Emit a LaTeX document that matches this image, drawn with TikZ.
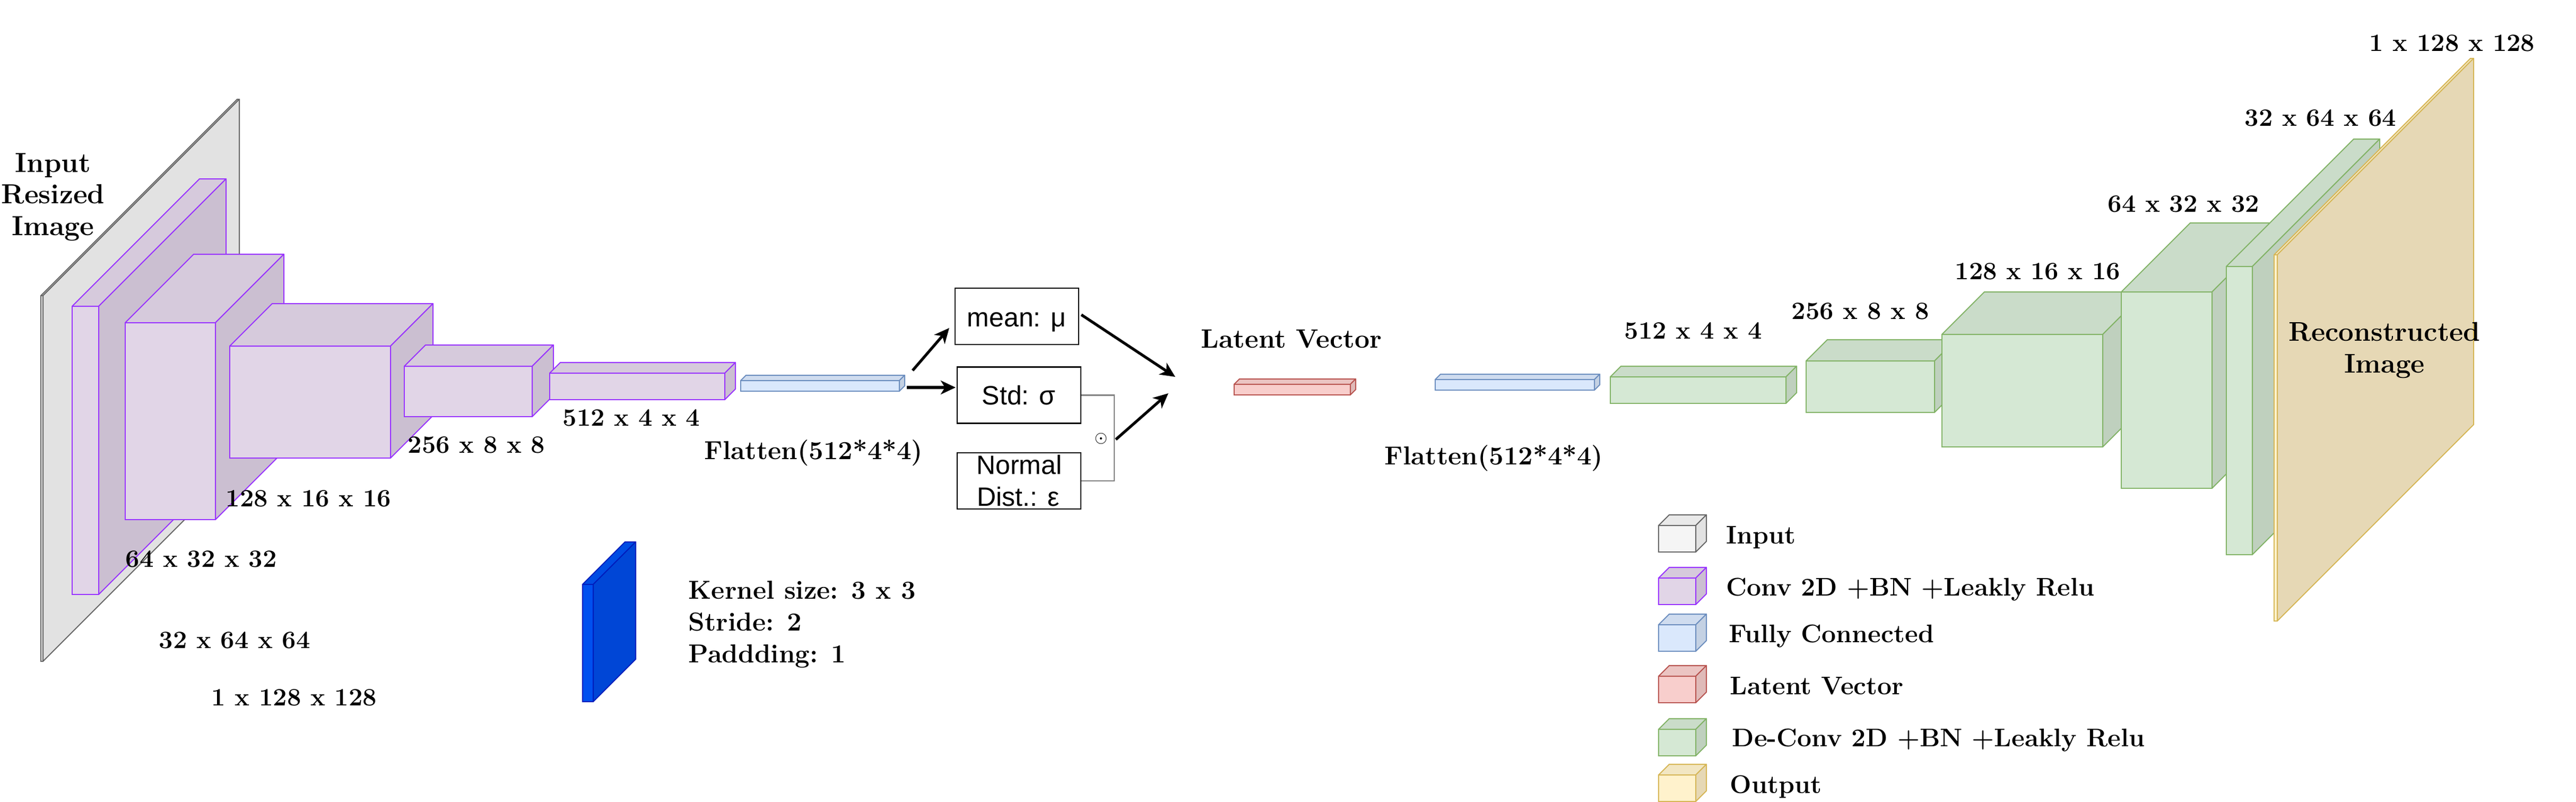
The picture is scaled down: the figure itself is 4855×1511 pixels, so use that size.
\documentclass[tikz,border=0pt]{standalone}
\usepackage{fontspec}
\newfontfamily\boxfont{Liberation Sans}
\usetikzlibrary{arrows.meta}
\definecolor{purF}{HTML}{E1D5E7}\definecolor{purT}{HTML}{D6CADC}\definecolor{purS}{HTML}{CBBFD1}\definecolor{purL}{HTML}{9933FF}
\definecolor{grnF}{HTML}{D5E8D4}\definecolor{grnT}{HTML}{CADCC9}\definecolor{grnS}{HTML}{BFD0BE}\definecolor{grnL}{HTML}{82B366}
\definecolor{bluF}{HTML}{DAE8FC}\definecolor{bluT}{HTML}{CFDCEF}\definecolor{bluS}{HTML}{C4D1E3}\definecolor{bluL}{HTML}{6C8EBF}
\definecolor{redF}{HTML}{F8CECC}\definecolor{redT}{HTML}{EBC4C2}\definecolor{redS}{HTML}{DFBAB8}\definecolor{redL}{HTML}{B85450}
\definecolor{gryF}{HTML}{F5F5F5}\definecolor{gryT}{HTML}{E9E9E9}\definecolor{gryS}{HTML}{E2E2E2}\definecolor{gryL}{HTML}{666666}
\definecolor{yelF}{HTML}{FFF2CC}\definecolor{yelT}{HTML}{F2E6C2}\definecolor{yelS}{HTML}{E6D8B5}\definecolor{yelL}{HTML}{D6B656}
\definecolor{kbF}{HTML}{0050EF}\definecolor{kbT}{HTML}{004CE3}\definecolor{kbS}{HTML}{0046D6}\definecolor{kbL}{HTML}{001DBC}
\newcommand{\cuboid}[7]{%
  \node[draw=#7L, fill=#7F, line width=0.5pt, inner sep=0pt, outer sep=0pt, anchor=north west,
        minimum width=#4*0.25pt, minimum height=#5*0.25pt] (#1) at (#2,#3) {};
  \draw[draw=#7L, fill=#7T, line width=0.5pt, line join=round] (#1.north west) -- ++(#6,-#6) -- ++(#4,0) -- (#1.north east) -- cycle;
  \draw[draw=#7L, fill=#7S, line width=0.5pt, line join=round] (#1.north east) -- ++(#6,-#6) -- ++(0,#5) -- (#1.south east) -- cycle;
}
\tikzset{
  dimlbl/.style={font=\bfseries\fontsize{11.75}{14}\selectfont, inner sep=0pt, anchor=base west},
  titlbl/.style={font=\bfseries\fontsize{12.75}{15}\selectfont, inner sep=0pt, anchor=base},
  midlbl/.style={font=\bfseries\fontsize{12.25}{15}\selectfont, inner sep=0pt, anchor=base west},
  leglbl/.style={font=\bfseries\fontsize{12}{14}\selectfont, inner sep=0pt, anchor=base west},
  sbox/.style={draw=black, line width=0.6pt, fill=white, inner sep=0pt, minimum width=58.25pt, minimum height=26.5pt},
  stxt/.style={font=\boxfont\fontsize{12.5}{15}\selectfont, inner sep=0pt, anchor=base},
  flow/.style={line width=1.3pt, -{Stealth[length=7pt, width=6.5pt, inset=2pt]}},
}
\begin{document}
\begin{tikzpicture}[x=0.25pt, y=-0.25pt]
\useasboundingbox (0,0) rectangle (4855,1511);
\fill[white] (0,0) rectangle (4855,1511);
% encoder
\cuboid{inp}{77}{557}{4}{689}{370}{gry}
\cuboid{enca}{136}{577}{50}{543}{240}{pur}
\cuboid{encb}{236}{608}{170}{371}{129}{pur}
\cuboid{encc}{433}{652}{303}{211}{80}{pur}
\cuboid{encd}{762}{690}{241}{95}{40}{pur}
\cuboid{ence}{1036}{703}{330}{50}{20}{pur}
\cuboid{fca}{1396}{717}{299}{20}{10}{blu}
% latent
\cuboid{lat}{2326}{724}{219}{20}{10}{red}
\cuboid{fcb}{2705}{715}{300}{20}{10}{blu}
% decoder
\cuboid{deca}{3035}{710}{331}{50}{20}{grn}
\cuboid{decb}{3404}{680}{242}{97}{40}{grn}
\cuboid{decc}{3660}{630}{303}{212}{80}{grn}
\cuboid{decd}{3998}{550}{171}{370}{130}{grn}
\cuboid{dece}{4196}{502}{49}{543}{240}{grn}
\cuboid{outp}{4286}{480}{6}{690}{370}{yel}
% kernel slab
\cuboid{kern}{1098}{1101}{20}{221}{80}{kb}
% legend cubes
\cuboid{lga}{3126}{990}{70}{50}{20}{gry}
\cuboid{lgb}{3126}{1089}{70}{50}{20}{pur}
\cuboid{lgc}{3126}{1177}{70}{50}{20}{blu}
\cuboid{lgd}{3126}{1274}{70}{50}{20}{red}
\cuboid{lge}{3126}{1374}{70}{50}{20}{grn}
\cuboid{lgf}{3126}{1460}{70}{50}{20}{yel}
% sampling boxes
\node[sbox] (mean) at (1916.5,596) {};
\node[sbox] (std) at (1920.5,744.5) {};
\node[sbox] (norm) at (1920.5,906) {};
\node[stxt] (meant) at (1916,615) {mean: μ};
\node[stxt] (stdt) at (1920,762) {Std: σ};
\node[stxt] (normt) at (1921,893) {Normal};
\node[stxt] (distt) at (1919,953) {Dist.: ε};
\draw[gray, line width=0.6pt] (std.east) -- ++(62,0) |- (norm.east);
\node[inner sep=0pt, font=\fontsize{7.5}{9}\selectfont] (odot) at (2075,826) {$\odot$};
% connectors
\coordinate (fcout1) at (1720,698);
\coordinate (meanin) at (1789,618);
\coordinate (fcout2) at (1709,730);
\coordinate (stdin) at (1801,730);
\coordinate (brout) at (2103,828);
\coordinate (zin1) at (2202,741);
\coordinate (zin2) at (2215,710);
\coordinate (meanout) at (2038,593);
\draw[flow] (fcout1) -- (meanin);
\draw[flow] (fcout2) -- (stdin);
\draw[flow] (meanout) -- (zin2);
\draw[flow] (brout) -- (zin1);
% titles
\node[titlbl, font=\bfseries\fontsize{13}{15}\selectfont] (tin1) at (100,324) {Input};
\node[titlbl, font=\bfseries\fontsize{13}{15}\selectfont] (tin2) at (100,383) {Resized};
\node[titlbl, font=\bfseries\fontsize{13}{15}\selectfont] (tin3) at (100,443) {Image};
\node[titlbl] (trc1) at (4494,642) {Reconstructed};
\node[titlbl] (trc2) at (4494,702) {Image};
\node[midlbl, font=\bfseries\fontsize{12.5}{15}\selectfont] (tlat) at (2263,655) {Latent Vector};
\node[midlbl] (tfl1) at (1327,865) {Flatten(512*4*4)};
\node[midlbl] (tfl2) at (2609,875) {Flatten(512*4*4)};
% dimensions
\node[dimlbl] (ea) at (236,1068) {64 x 32 x 32};
\node[dimlbl] (eb) at (425,954) {128 x 16 x 16};
\node[dimlbl] (ec) at (768,853) {256 x 8 x 8};
\node[dimlbl] (ed) at (1060,802) {512 x 4 x 4};
\node[dimlbl] (ee) at (299,1221) {32 x 64 x 64};
\node[dimlbl] (ef) at (398,1329) {1 x 128 x 128};
\node[dimlbl] (da) at (3061,638) {512 x 4 x 4};
\node[dimlbl] (db) at (3376,601) {256 x 8 x 8};
\node[dimlbl] (dc) at (3684,526) {128 x 16 x 16};
\node[dimlbl] (dd) at (3972,399) {64 x 32 x 32};
\node[dimlbl] (de) at (4230,237) {32 x 64 x 64};
\node[dimlbl] (df) at (4465,96) {1 x 128 x 128};
% kernel text
\node[midlbl] (k1) at (1297,1128) {Kernel size: 3 x 3};
\node[midlbl] (k2) at (1297,1188) {Stride: 2};
\node[midlbl] (k3) at (1297,1248) {Paddding: 1};
% legend text
\node[leglbl] (la) at (3253,1024) {Input};
\node[leglbl] (lb) at (3253,1122) {Conv 2D +BN +Leakly Relu};
\node[leglbl] (lc) at (3258,1210) {Fully Connected};
\node[leglbl] (ld) at (3260,1308) {Latent Vector};
\node[leglbl] (le) at (3264,1406) {De-Conv 2D +BN +Leakly Relu};
\node[leglbl] (lf) at (3260,1494) {Output};
\end{tikzpicture}
\end{document}
